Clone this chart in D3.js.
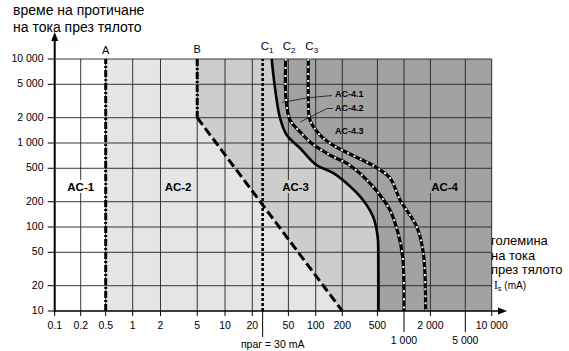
<!DOCTYPE html>
<html><head><meta charset="utf-8">
<script src="https://cdn.jsdelivr.net/npm/d3@7/dist/d3.min.js"></script>
<style>
html,body{margin:0;padding:0;background:#fff;}
svg{display:block;font-family:"Liberation Sans",Arial,Helvetica,sans-serif;}
</style></head>
<body>
<svg id="chart" width="569" height="351"></svg>
<script>
// ---------- data ----------
const yTicks = [10, 20, 50, 100, 200, 500, 1000, 2000, 5000, 10000];
const yTickLabels = ["10", "20", "50", "100", "200", "500", "1 000", "2 000", "5 000", "10 000"];
const xTicksRow1 = [0.1, 0.2, 0.5, 1, 2, 5, 10, 20, 50, 100, 200, 500, 2000, 10000];
const xLabelsRow1 = ["0.1", "0.2", "0.5", "1", "2", "5", "10", "20", "50", "100", "200", "500", "2 000", "10 000"];
const xTicksRow2 = [1000, 5000];
const xLabelsRow2 = ["1 000", "5 000"];
const xGrid = [0.2, 0.5, 1, 2, 5, 10, 20, 50, 100, 200, 500, 1000, 2000, 5000, 10000];

// boundary A (mA) and B (mA / ms)
const lineA = [[0.5, 10], [0.5, 10000]];
const lineBvert = [[5, 10000], [5, 2000]];
const lineBdiag = [[5, 2000], [200, 10]];
const thresholdMA = 26; // drawn position of the 30 mA threshold line
const thresholdLabel = "праг = 30 mA";

// curves C1, C2, C3 : [mA, ms]
const curveC1 = [[32.7, 10000], [35.6, 4500], [40.4, 1990], [47.9, 1245], [67, 871], [102, 547], [157, 440], [224, 331], [343, 210], [446, 133], [503, 77], [512, 44], [514, 10]];
const curveC2 = [[46.7, 10000], [47, 3435], [52, 1880], [67, 1365], [90, 991], [145, 719], [245, 540], [446, 302], [693, 159], [855, 85], [966, 44], [1000, 10]];
const curveC3 = [[83, 10000], [83, 3435], [86.5, 1880], [112, 1245], [160, 930], [264, 710], [446, 540], [693, 383], [902, 210], [1396, 101], [1660, 49], [1766, 10]];

const zoneLabels = ["AC-1", "AC-2", "AC-3", "AC-4"];
const zoneLabelX = [0.2, 3.1, 60, 2900]; // mA
const subZoneLabels = ["AC-4.1", "AC-4.2", "AC-4.3"];
const curveNames = ["C", "C", "C"];
const curveSubs = ["1", "2", "3"];

// ---------- scales ----------
const x = d3.scaleLog()
  .domain([0.1, 0.2, 0.5, 1, 10, 100, 1000, 10000])
  .range([54.7, 80.7, 105.7, 132.7, 225, 315.7, 404, 491.7]);
const y = d3.scaleLog().domain([10, 10000]).range([311, 59]);

const svg = d3.select("#chart");
const line = d3.line().x(d => x(d[0])).y(d => y(d[1]));
const smooth = d3.line().x(d => x(d[0])).y(d => y(d[1])).curve(d3.curveCatmullRom.alpha(0.5));

const colAC2 = "#e5e5e5", colAC3 = "#cdcdcd", colAC4 = "#a2a2a2";

// ---------- zones ----------
svg.append("path").attr("fill", colAC2)
  .attr("d", line([[0.5, 10], [0.5, 10000], [10000, 10000], [10000, 10]]) + "Z");
svg.append("path").attr("fill", colAC3)
  .attr("d", line([[5, 10000], [5, 2000], [200, 10], [10000, 10], [10000, 10000]]) + "Z");
svg.append("path").attr("fill", colAC4)
  .attr("d", smooth(curveC1) + "L" + x(10000) + "," + y(10) + "L" + x(10000) + "," + y(10000) + "Z");

// ---------- grid ----------
const grid = svg.append("g").attr("stroke", "#222").attr("stroke-width", 0.9);
grid.selectAll(".vg").data(xGrid).enter().append("line")
  .attr("x1", d => x(d)).attr("x2", d => x(d)).attr("y1", y(10)).attr("y2", y(10000));
grid.selectAll(".hg").data(yTicks.filter(v => v > 10)).enter().append("line")
  .attr("x1", x(0.1)).attr("x2", x(10000)).attr("y1", d => y(d)).attr("y2", d => y(d));

// ---------- boundary lines ----------
svg.append("path").attr("d", line(lineA)).attr("fill", "none").attr("stroke", "#000")
  .attr("stroke-width", 3).attr("stroke-dasharray", "7,2,2,2");
svg.append("path").attr("d", line(lineBvert)).attr("fill", "none").attr("stroke", "#000")
  .attr("stroke-width", 3).attr("stroke-dasharray", "7,2,2,2");
svg.append("path").attr("d", line(lineBdiag)).attr("fill", "none").attr("stroke", "#000")
  .attr("stroke-width", 3).attr("stroke-dasharray", "9,4");
svg.append("path").attr("d", line([[thresholdMA, 10], [thresholdMA, 10000]])).attr("fill", "none")
  .attr("stroke", "#000").attr("stroke-width", 2.6).attr("stroke-dasharray", "3,2");
svg.append("line").attr("x1", x(thresholdMA)).attr("x2", x(thresholdMA)).attr("y1", y(10)).attr("y2", 337)
  .attr("stroke", "#000").attr("stroke-width", 1);

// curves
svg.append("path").attr("d", smooth(curveC1)).attr("fill", "none").attr("stroke", "#000").attr("stroke-width", 2.6);
[curveC2, curveC3].forEach((c, i) => {
  svg.append("path").attr("d", smooth(c)).attr("fill", "none").attr("stroke", "#000").attr("stroke-width", 3.2);
  svg.append("path").attr("d", smooth(c)).attr("fill", "none").attr("stroke", "#fff").attr("stroke-width", 2)
    .attr("stroke-dasharray", i === 0 ? "2,6" : "2,5");
});

// ---------- axes ----------
svg.append("line").attr("x1", x(0.1)).attr("x2", 503).attr("y1", y(10)).attr("y2", y(10))
  .attr("stroke", "#000").attr("stroke-width", 1.6);
svg.append("path").attr("d", `M507,${y(10)} L498,${y(10) - 3.5} L498,${y(10) + 3.5} Z`).attr("fill", "#000");
svg.append("line").attr("x1", x(0.1)).attr("x2", x(0.1)).attr("y1", y(10) + 1).attr("y2", 38)
  .attr("stroke", "#000").attr("stroke-width", 2);
svg.append("path").attr("d", `M${x(0.1)},32 L${x(0.1) - 3.5},41 L${x(0.1) + 3.5},41 Z`).attr("fill", "#000");

// y ticks
const yt = svg.append("g").attr("font-size", 10.5).attr("fill", "#000");
yTicks.forEach((v, i) => {
  svg.append("line").attr("x1", x(0.1) - 7).attr("x2", x(0.1)).attr("y1", y(v)).attr("y2", y(v))
    .attr("stroke", "#000").attr("stroke-width", 1);
  yt.append("text").attr("x", 43.5).attr("y", y(v) + 3).attr("text-anchor", "end").text(yTickLabels[i]);
});
// x ticks
const xt = svg.append("g").attr("font-size", 10.5).attr("fill", "#000");
xTicksRow1.forEach((v, i) => {
  svg.append("line").attr("x1", x(v)).attr("x2", x(v)).attr("y1", y(10)).attr("y2", y(10) + 5)
    .attr("stroke", "#000").attr("stroke-width", 1);
  xt.append("text").attr("x", x(v)).attr("y", 328.5).attr("text-anchor", "middle").text(xLabelsRow1[i]);
});
xTicksRow2.forEach((v, i) => {
  svg.append("line").attr("x1", x(v)).attr("x2", x(v)).attr("y1", y(10)).attr("y2", y(10) + 21)
    .attr("stroke", "#000").attr("stroke-width", 1);
  xt.append("text").attr("x", x(v)).attr("y", 344).attr("text-anchor", "middle").text(xLabelsRow2[i]);
});
svg.append("text").attr("x", x(thresholdMA) + 10).attr("y", 348).attr("text-anchor", "middle")
  .attr("font-size", 10.5).text(thresholdLabel);

// ---------- titles ----------
svg.append("text").attr("x", 13).attr("y", 15).attr("font-size", 14).text("време на протичане");
svg.append("text").attr("x", 13).attr("y", 32).attr("font-size", 14).text("на тока през тялото");
const rt = svg.append("g").attr("font-size", 13);
rt.append("text").attr("x", 491).attr("y", 245).text("големина");
rt.append("text").attr("x", 491).attr("y", 259.5).text("на тока");
rt.append("text").attr("x", 491).attr("y", 273.5).text("през тялото");
const is = svg.append("text").attr("x", 494).attr("y", 288.5).attr("font-size", 10);
is.append("tspan").attr("font-family", "Liberation Serif, Times New Roman, serif").attr("font-size", 11.5).text("I");
is.append("tspan").attr("font-size", 7.5).attr("dy", 2).text("s");
is.append("tspan").attr("dy", -2).text(" (mA)");

// ---------- line labels ----------
const lab = svg.append("g").attr("font-size", 11).attr("text-anchor", "middle");
lab.append("text").attr("x", x(0.5)).attr("y", 54).text("A");
lab.append("text").attr("x", x(5)).attr("y", 53).text("B");
const cTop = [curveC1[0][0], curveC2[0][0], curveC3[0][0]];
const cOff = [-7, 1, 1];
cTop.forEach((v, i) => {
  const t = svg.append("text").attr("x", x(v) + cOff[i] - 4).attr("y", 50).attr("font-size", 11.5);
  t.append("tspan").text(curveNames[i]);
  t.append("tspan").attr("font-size", 8).attr("dy", 3).text(curveSubs[i]);
});

// ---------- zone labels ----------
const zoneBg = ["#fff", colAC2, colAC3, colAC4];
zoneLabels.forEach((z, i) => {
  const cx = x(zoneLabelX[i]), cy = 187;
  svg.append("rect").attr("x", cx - 15).attr("y", cy - 7).attr("width", 30).attr("height", 13).attr("fill", zoneBg[i]);
  svg.append("text").attr("x", cx).attr("y", cy + 4).attr("text-anchor", "middle")
    .attr("font-size", 11.5).attr("font-weight", "bold").text(z);
});
const subY = [97, 111, 134];
subZoneLabels.forEach((z, i) => {
  svg.append("text").attr("x", 335).attr("y", subY[i]).attr("font-size", 9).attr("font-weight", "bold").text(z);
});
svg.append("path").attr("d", "M332,95.5 Q305,97 282,102.5").attr("fill", "none").attr("stroke", "#000").attr("stroke-width", 0.7);
svg.append("path").attr("d", "M333,108.5 L327,108.5 L300,122").attr("fill", "none").attr("stroke", "#000").attr("stroke-width", 0.7);
</script>
</body></html>
